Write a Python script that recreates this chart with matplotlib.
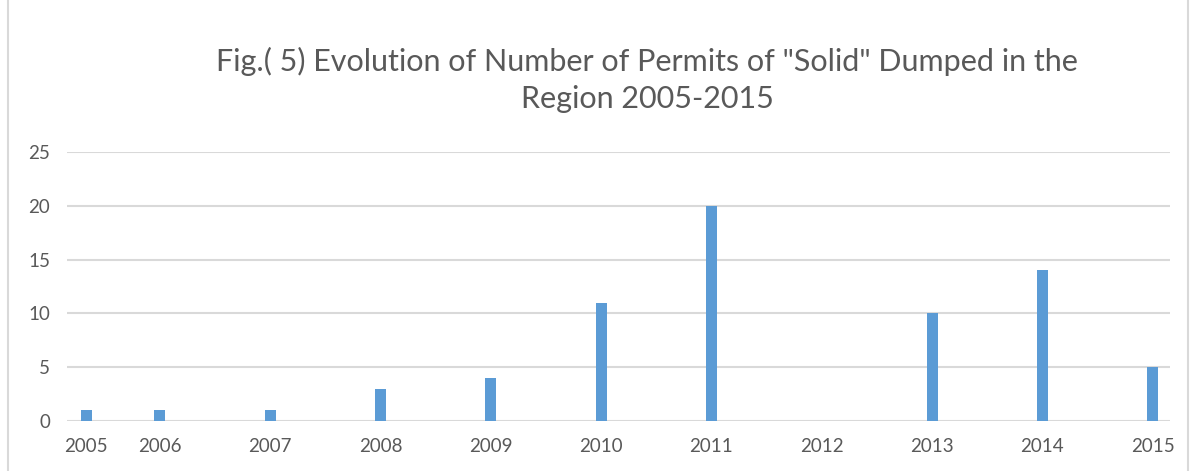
import matplotlib
matplotlib.use("Agg")
import matplotlib.pyplot as plt
from matplotlib.patches import Rectangle

# data
years = ["2005", "2006", "2007", "2008", "2009", "2010", "2011", "2012", "2013", "2014", "2015"]
# positions on the (uneven) date axis, in years
year_pos = [2005.33, 2006, 2007, 2008, 2009, 2010, 2011, 2012, 2013, 2014, 2015]
permits = [1, 1, 1, 3, 4, 11, 20, 0, 10, 14, 5]

plt.rcParams['font.family'] = ['Lato', 'DejaVu Sans']

fig = plt.figure(figsize=(11.96, 4.71), dpi=100)
ax = fig.add_axes([0.056, 0.1062, 0.922, 0.571])

ax.bar(year_pos, permits, width=0.1, color="#5b9bd5", zorder=3)

ax.set_xlim(2005.157, 2015.154)
ax.set_ylim(0, 25)
ax.set_yticks(range(0, 26, 5))
ax.set_xticks(year_pos)
ax.set_xticklabels(years)
ax.grid(axis="y", color="#d9d9d9", linewidth=1.5, zorder=0)
for s in ax.spines.values():
    s.set_visible(False)
ax.tick_params(length=0, labelsize=13.5, colors="#595959")
ax.tick_params(axis="x", pad=12)
ax.tick_params(axis="y", pad=12)

fig.text(0.541, 0.830, 'Fig.( 5) Evolution of Number of Permits of "Solid" Dumped in the\nRegion 2005-2015',
         ha="center", va="center", fontsize=22, color="#595959", linespacing=1.4)

# chart border
fig.patches.append(Rectangle((0.007, -0.01), 0.986, 1.05, transform=fig.transFigure,
                             fill=False, edgecolor="#d9d9d9", linewidth=1.5))

fig.savefig("out.png", dpi=100)
